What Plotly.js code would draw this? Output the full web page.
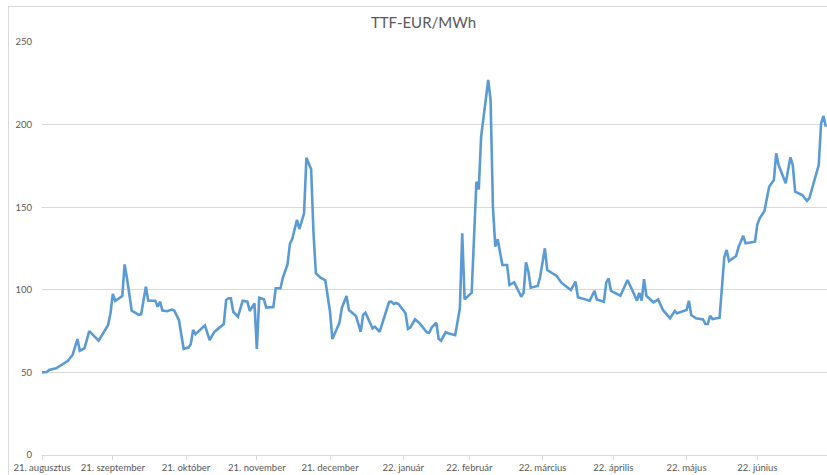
<!DOCTYPE html>
<html>
<head>
<meta charset="utf-8">
<script src="https://cdn.plot.ly/plotly-3.0.1.min.js"></script>
<style>
  html, body { margin: 0; padding: 0; background: #ffffff; overflow: hidden; }
  #frame { position: absolute; left: 8px; top: 6px; width: 900px; height: 600px;
           border: 1px solid #d9d9d9; box-sizing: border-box; }
  #chart { position: absolute; left: 0; top: 0; width: 827px; height: 475px; }
</style>
</head>
<body>
<div id="frame"></div>
<div id="chart"></div>
<script>
// TTF front-month gas price, EUR/MWh, daily closes
const dates = [
  '2021-08-31','2021-09-02','2021-09-03','2021-09-06','2021-09-11','2021-09-13','2021-09-15','2021-09-16',
  '2021-09-18','2021-09-20','2021-09-24','2021-09-28','2021-09-29','2021-09-30','2021-10-01','2021-10-04',
  '2021-10-05','2021-10-06','2021-10-08','2021-10-11','2021-10-12','2021-10-14','2021-10-15','2021-10-18',
  '2021-10-19','2021-10-20','2021-10-21','2021-10-23','2021-10-25','2021-10-26','2021-10-28','2021-10-30',
  '2021-11-01','2021-11-02','2021-11-03','2021-11-04','2021-11-08','2021-11-10','2021-11-12','2021-11-15',
  '2021-11-16','2021-11-17','2021-11-18','2021-11-19','2021-11-20','2021-11-22','2021-11-24','2021-11-26',
  '2021-11-27','2021-11-29','2021-11-30','2021-12-01','2021-12-03','2021-12-04','2021-12-07','2021-12-08',
  '2021-12-10','2021-12-11','2021-12-13','2021-12-14','2021-12-15','2021-12-17','2021-12-18','2021-12-20',
  '2021-12-21','2021-12-23','2021-12-24','2021-12-25','2021-12-27','2021-12-29','2021-12-31','2022-01-01',
  '2022-01-04','2022-01-05','2022-01-07','2022-01-08','2022-01-11','2022-01-13','2022-01-14','2022-01-15',
  '2022-01-18','2022-01-19','2022-01-21','2022-01-25','2022-01-26','2022-01-27','2022-01-28','2022-01-29',
  '2022-02-01','2022-02-02','2022-02-03','2022-02-05','2022-02-07','2022-02-10','2022-02-11','2022-02-12',
  '2022-02-14','2022-02-15','2022-02-16','2022-02-18','2022-02-19','2022-02-22','2022-02-23','2022-02-24',
  '2022-02-25','2022-02-26','2022-03-01','2022-03-03','2022-03-04','2022-03-05','2022-03-08','2022-03-09',
  '2022-03-10','2022-03-11','2022-03-12','2022-03-14','2022-03-16','2022-03-17','2022-03-19','2022-03-22',
  '2022-03-23','2022-03-24','2022-03-25','2022-03-26','2022-03-29','2022-03-30','2022-04-01','2022-04-02',
  '2022-04-06','2022-04-08','2022-04-12','2022-04-14','2022-04-15','2022-04-20','2022-04-22','2022-04-23',
  '2022-04-26','2022-04-27','2022-04-28','2022-04-29','2022-05-03','2022-05-06','2022-05-08','2022-05-10',
  '2022-05-11','2022-05-12','2022-05-13','2022-05-14','2022-05-17','2022-05-19','2022-05-21','2022-05-24',
  '2022-05-26','2022-05-27','2022-05-31','2022-06-01','2022-06-02','2022-06-04','2022-06-07','2022-06-08',
  '2022-06-09','2022-06-10','2022-06-11','2022-06-14','2022-06-16','2022-06-17','2022-06-18','2022-06-21',
  '2022-06-22','2022-06-24','2022-06-25','2022-06-29','2022-06-30','2022-07-01','2022-07-03','2022-07-05',
  '2022-07-07','2022-07-08','2022-07-09','2022-07-12','2022-07-14','2022-07-15','2022-07-16','2022-07-19',
  '2022-07-21','2022-07-22','2022-07-23','2022-07-26','2022-07-27','2022-07-28','2022-07-29'
];

const prices = [
  50, 50.2, 51.5, 52.5, 57, 60.7, 70.2, 63.1,
  64.6, 75, 69.2, 78.7, 85.8, 97.5, 93.2, 96.2,
  115.4, 107, 87.4, 84.9, 85.2, 101.9, 93.4, 93.4,
  89.8, 92.8, 87.4, 87, 88, 87.4, 81.7, 64.3,
  65, 67, 75.7, 73.1, 78.5, 69.6, 74.5, 77.7,
  79.3, 93.8, 94.9, 94.9, 86.7, 83.7, 93.4, 92.8,
  87.2, 91.8, 64.2, 95.2, 94.2, 89.2, 89.6, 100.9,
  100.9, 107.3, 115.4, 127.7, 130.8, 142.3, 136.8, 146.3,
  180, 172.9, 134.2, 110, 107.3, 105.7, 86.7, 70.2,
  80.1, 89, 96.2, 87.8, 84.1, 74.6, 84.7, 86.1,
  76.7, 77.7, 74.5, 92.6, 92.8, 91.4, 92, 91.4,
  85.8, 76.3, 77.1, 82.1, 79.7, 74.3, 74, 77.1,
  80.1, 70.4, 69.2, 74.3, 73.7, 72.5, 81.3, 88.8,
  134.2, 94.2, 98.2, 165.4, 160.8, 192.7, 227, 215,
  150, 126.1, 130.6, 115, 115, 102.9, 104.5, 95.8,
  98.2, 116.6, 111, 101.3, 102.3, 107.9, 125.1, 112,
  108.4, 104.3, 99.9, 104.9, 95.5, 93.4, 99.4, 94.2,
  92.8, 104.3, 106.9, 99.3, 96.4, 105.9, 99.9, 93.4,
  98.2, 93.4, 106.5, 96.4, 92.4, 94.2, 87.8, 82.7,
  87.2, 85.8, 87.8, 93.4, 84.7, 82.7, 82.1, 79.3,
  79.3, 84.3, 82.3, 83.1, 119.7, 124.1, 117.4, 120.5,
  125.7, 132.7, 128.1, 129.1, 139.6, 143.3, 147.7, 162.4,
  166.5, 182.6, 175.5, 164.5, 180.2, 175.5, 159.4, 157.4,
  153.9, 155.4, 160.4, 175.5, 200.8, 205.2, 198.7
];

// Month-end ticks with Hungarian month labels
const tickDates = [
  '2021-08-31','2021-09-30','2021-10-31','2021-11-30','2021-12-31','2022-01-31',
  '2022-02-28','2022-03-31','2022-04-30','2022-05-31','2022-06-30'
];
const tickLabels = [
  '21. augusztus','21. szeptember','21. október','21. november','21. december','22. január',
  '22. február','22. március','22. április','22. május','22. június'
];
const yTicks = [0, 50, 100, 150, 200, 250];

const textGrey = '#595959';
const gridGrey = '#d9d9d9';

const trace = {
  type: 'scatter',
  mode: 'lines',
  x: dates,
  y: prices,
  line: { color: '#5B9BD5', width: 2.6, shape: 'linear' },
  hoverinfo: 'skip'
};

const layout = {
  width: 827,
  height: 475,
  margin: { l: 42, r: 0, t: 42, b: 20, pad: 0 },
  paper_bgcolor: 'rgba(0,0,0,0)',
  plot_bgcolor: 'rgba(0,0,0,0)',
  showlegend: false,
  font: { family: 'Lato, "Liberation Sans", sans-serif', color: textGrey, size: 9.5 },
  title: {
    text: 'TTF-EUR/MWh',
    font: { family: 'Lato, "Liberation Sans", sans-serif', size: 15, color: textGrey },
    xref: 'container', yref: 'container',
    x: 423.5 / 827, xanchor: 'center',
    y: 1 - 23 / 475, yanchor: 'middle'
  },
  xaxis: {
    type: 'date',
    range: ['2021-08-31', '2022-07-29 12:00'],
    tickmode: 'array',
    tickvals: tickDates,
    ticktext: tickLabels,
    showgrid: false,
    zeroline: false,
    showline: true,
    linecolor: gridGrey,
    linewidth: 1,
    ticks: 'outside',
    ticklen: 4,
    tickcolor: gridGrey,
    tickwidth: 1,
    tickfont: { size: 9.5, color: textGrey },
    tickangle: 0,
    fixedrange: true
  },
  yaxis: {
    range: [0, 250],
    tickmode: 'array',
    tickvals: yTicks,
    ticktext: yTicks.map(String),
    showgrid: true,
    gridcolor: gridGrey,
    gridwidth: 1,
    zeroline: false,
    showline: false,
    ticks: '',
    ticklabelstandoff: 9,
    tickfont: { size: 9.5, color: textGrey },
    fixedrange: true
  }
};

Plotly.newPlot('chart', [trace], layout, { displayModeBar: false, staticPlot: true });
</script>
</body>
</html>
